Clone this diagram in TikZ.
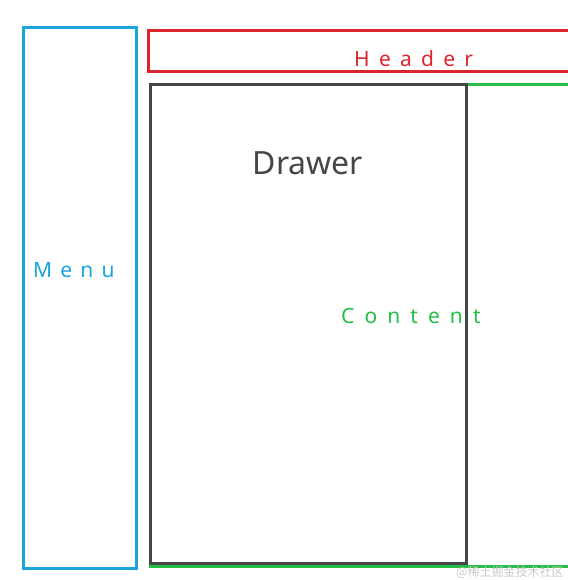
\documentclass[tikz,border=0pt]{standalone}
\usepackage{fontspec}
\setmainfont{Noto Sans}
\newfontfamily\cjkfont{Noto Sans CJK SC}
\definecolor{menublue}{RGB}{27,165,220}
\definecolor{headred}{RGB}{218,37,47}
\definecolor{contgreen}{RGB}{36,190,72}
\definecolor{drawgray}{RGB}{70,70,70}
\definecolor{wmgray}{RGB}{200,200,200}
\tikzset{
  frame/.style={line width=3pt},
  spaced/.style={inner sep=0pt, anchor=base west, font=\fontsize{21}{21}\selectfont\addfontfeature{LetterSpace=#1}},
}
\begin{document}
\begin{tikzpicture}[x=1pt,y=-1pt]
\useasboundingbox (0,0) rectangle (567,580);
% content (under drawer)
\draw[frame, contgreen] (150,84.7) rectangle (575,566.5);
\node[spaced=48, text=contgreen] (content) at (341,323) {Content};
% drawer
\draw[frame, drawgray] (150,84.7) rectangle (466.3,563.8);
\node[inner sep=0pt, anchor=base, text=drawgray, font=\fontsize{32}{32}\selectfont] (drawer) at (308,175) {Drawer};
% header
\draw[frame, headred] (148,30.7) rectangle (575,72);
\node[spaced=44, text=headred] (header) at (354,67) {Header};
% menu
\draw[frame, menublue] (23,28) rectangle (136.5,568);
\node[spaced=39, text=menublue] (menu) at (33,277) {Menu};
% watermark
\node[inner sep=0pt, anchor=base west, text=wmgray, font=\cjkfont\fontsize{12}{12}\selectfont] (wm) at (456,576) {@稀土掘金技术社区};
\end{tikzpicture}
\end{document}
